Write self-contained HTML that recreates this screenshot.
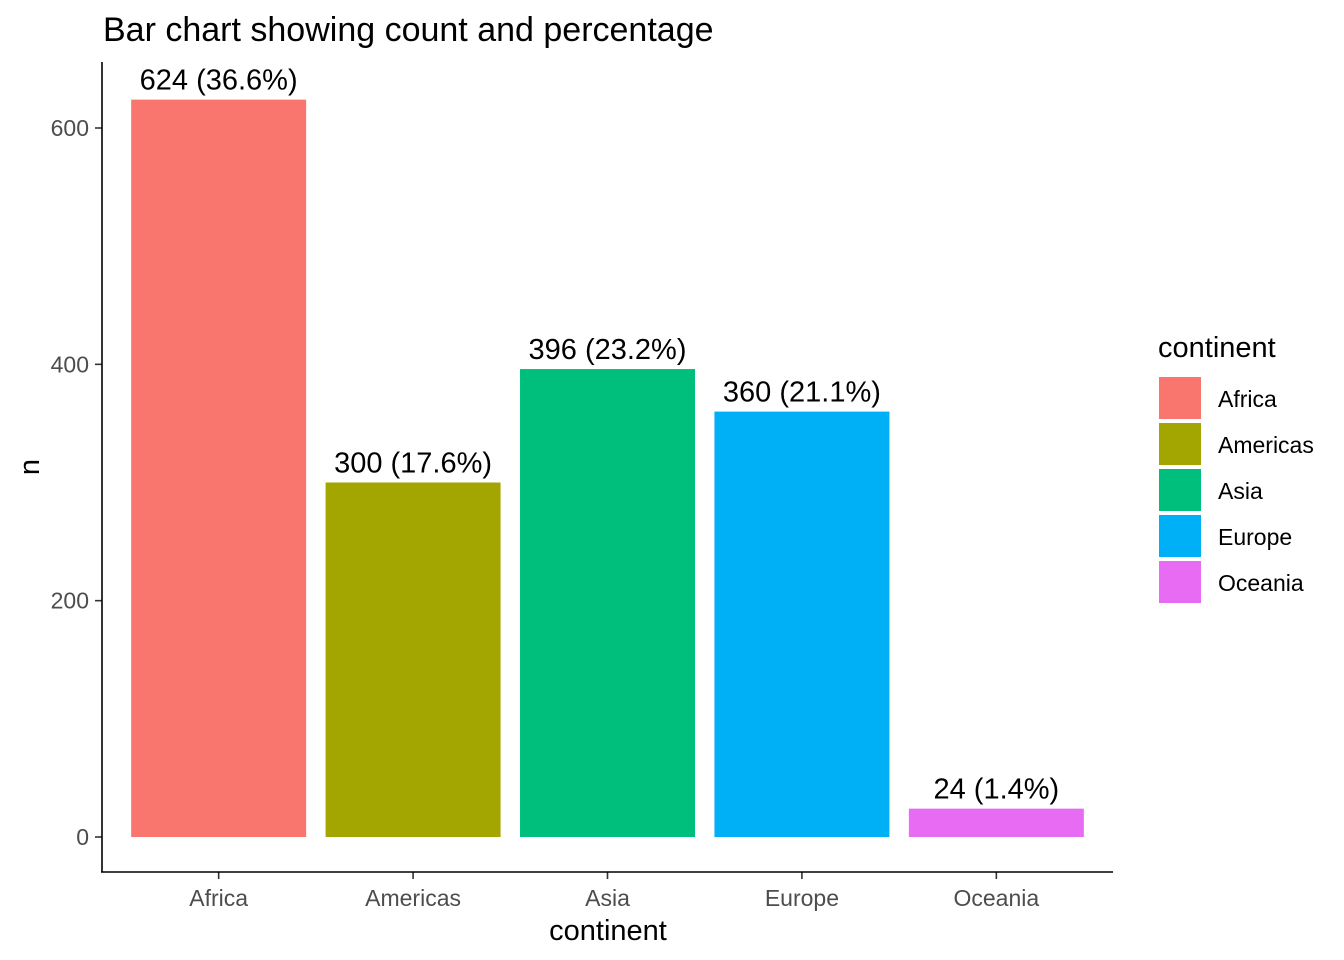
<!DOCTYPE html>
<html><head><meta charset="utf-8"><style>
body{margin:0;background:#fff;}
svg{display:block;font-family:"Liberation Sans",Arial,sans-serif;}
</style></head><body>
<svg id="chart" width="1344" height="960">
<rect width="1344" height="960" fill="#fff"/>
<text x="103" y="41" font-size="34" fill="#000">Bar chart showing count and percentage</text>
<g id="bars"></g>
<g id="yaxis"></g>
<g id="xaxis"></g>
<line x1="102" y1="62" x2="102" y2="872" stroke="#000" stroke-width="1.6"/>
<line x1="101" y1="872" x2="1113" y2="872" stroke="#000" stroke-width="1.6"/>
<text x="608" y="940" font-size="29" text-anchor="middle">continent</text>
<text transform="translate(39,467) rotate(-90)" font-size="29" text-anchor="middle">n</text>
<text x="1158" y="357" font-size="29">continent</text>
<g id="legend"></g>
</svg>
<script>
const categories=["Africa","Americas","Asia","Europe","Oceania"];
const counts=[624,300,396,360,24];
const percents=["36.6%","17.6%","23.2%","21.1%","1.4%"];
const colors=["#F8766D","#A3A500","#00BF7D","#00B0F6","#E76BF3"];
const yTicks=[0,200,400,600];
const NS="http://www.w3.org/2000/svg";
function mk(t,a,p,txt){const e=document.createElementNS(NS,t);for(const k in a)e.setAttribute(k,a[k]);if(txt!=null)e.textContent=txt;p.appendChild(e);return e;}
const y0=837,pxPer=709/600;
function y(v){return y0-v*pxPer;}
const xLeft=102,band=1011/5.2;
function xc(i){return xLeft+band*(i+1-0.4);}
const bars=document.getElementById('bars'),ya=document.getElementById('yaxis'),xa=document.getElementById('xaxis'),lg=document.getElementById('legend');
categories.forEach((c,i)=>{
 const w=band*0.9;
 const r=mk('rect',{x:xc(i)-w/2,y:y(counts[i]),width:w,height:y0-y(counts[i]),fill:colors[i]},bars);
 
 
 const l=mk('text',{x:xc(i),y:y(counts[i])-10,'font-size':29,'text-anchor':'middle',fill:'#000'},bars,counts[i]+" ("+percents[i]+")");
 
 
 const tk=mk('line',{x1:xc(i),x2:xc(i),y1:872,y2:879,stroke:'#333','stroke-width':1.6},xa);
 
 
 const tl=mk('text',{x:xc(i),y:906,'font-size':23,'text-anchor':'middle',fill:'#4d4d4d'},xa,c);
 
 
 const k=mk('rect',{x:1159,y:377+46*i,width:42,height:42,fill:colors[i]},lg);
 
 
 const kt=mk('text',{x:1218,y:407+46*i,'font-size':23,fill:'#000'},lg,c);
 
 
});
yTicks.forEach(v=>{
 const tk=mk('line',{x1:95,x2:102,y1:y(v),y2:y(v),stroke:'#333','stroke-width':1.6},ya);
 
 
 const tl=mk('text',{x:89,y:y(v)+8,'font-size':23,'text-anchor':'end',fill:'#4d4d4d'},ya,v);
 
 
});
</script>
</body></html>
